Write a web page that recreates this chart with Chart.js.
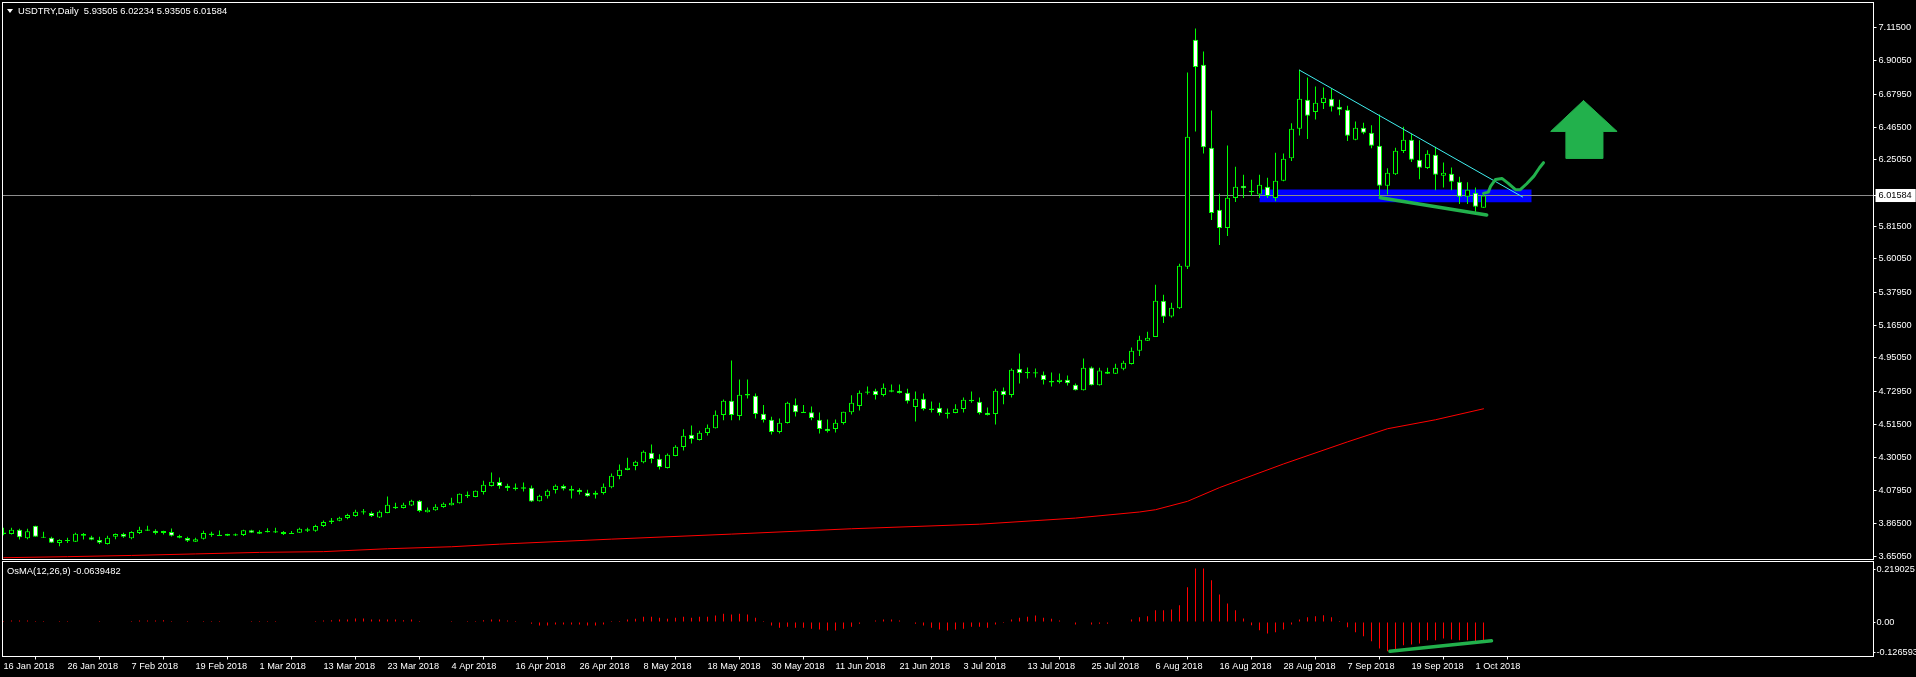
<!DOCTYPE html>
<html>
<head>
<meta charset="utf-8">
<title>USDTRY,Daily</title>
<script src="https://cdn.jsdelivr.net/npm/chart.js@4"></script>
<style>
    html, body { margin: 0; padding: 0; background: #000; overflow: hidden; }
    canvas { position: absolute; left: 0; display: block; }
    #mainChart { top: 0; }
    #osmaChart { top: 560px; }
    .label { position: absolute; color: #fff; font: 9.4px "Liberation Sans", sans-serif; white-space: pre; line-height: 11px; }
    #symbolLabel { left: 18px; top: 5px; }
    #osmaLabel { left: 7px; top: 565px; }
    #dropMark { position: absolute; left: 7px; top: 9px; width: 0; height: 0; border-left: 3px solid transparent; border-right: 3px solid transparent; border-top: 4px solid #fff; }
</style>
</head>
<body>
<canvas id="mainChart" width="1916" height="560"></canvas>
<canvas id="osmaChart" width="1916" height="117"></canvas>
<div id="dropMark"></div>
<div id="symbolLabel" class="label">USDTRY,Daily  5.93505 6.02234 5.93505 6.01584</div>
<div id="osmaLabel" class="label">OsMA(12,26,9) -0.0639482</div>
<script>
// Daily candles, 16 Jan 2018 to 2 Oct 2018
var opens = [
    3.795,3.795,3.823,3.767,3.850,3.778,3.771,3.736,3.750,3.745,
    3.795,3.775,3.756,3.730,3.778,3.795,3.767,3.802,3.817,3.817,
    3.802,3.808,3.782,3.769,3.745,3.765,3.789,3.783,3.784,3.785,
    3.789,3.821,3.797,3.807,3.805,3.808,3.795,3.804,3.817,3.817,
    3.848,3.874,3.883,3.900,3.913,3.936,3.933,3.904,3.933,3.964,
    3.966,3.983,4.014,3.939,3.952,3.972,3.985,3.998,4.043,4.038,
    4.071,4.110,4.136,4.112,4.091,4.093,4.099,4.011,4.044,4.084,
    4.110,4.080,4.086,4.066,4.053,4.064,4.103,4.176,4.215,4.241,
    4.267,4.329,4.289,4.228,4.307,4.366,4.447,4.412,4.458,4.490,
    4.576,4.670,4.569,4.704,4.702,4.584,4.545,4.464,4.523,4.643,
    4.590,4.595,4.545,4.486,4.484,4.523,4.595,4.635,4.722,4.735,
    4.707,4.728,4.735,4.722,4.628,4.683,4.609,4.624,4.583,4.589,
    4.615,4.667,4.663,4.591,4.582,4.735,4.707,4.879,4.850,4.849,
    4.840,4.790,4.792,4.807,4.774,4.739,4.888,4.772,4.860,4.847,
    4.880,4.910,4.998,5.063,5.087,5.325,5.223,5.277,5.548,7.037,
    6.873,6.329,5.923,5.802,6.000,6.080,6.038,6.023,6.073,6.000,
    6.113,6.261,6.454,6.644,6.563,6.622,6.651,6.598,6.578,6.382,
    6.460,6.427,6.342,6.080,6.156,6.307,6.381,6.250,6.196,6.283,
    6.145,6.158,6.106,6.008,6.034,5.93505
];
var highs = [
    3.837,3.837,3.830,3.830,3.850,3.810,3.778,3.762,3.771,3.804,
    3.802,3.784,3.778,3.784,3.799,3.804,3.813,3.843,3.850,3.826,
    3.817,3.832,3.791,3.778,3.771,3.817,3.810,3.819,3.797,3.799,
    3.823,3.823,3.821,3.834,3.837,3.815,3.815,3.837,3.837,3.856,
    3.885,3.900,3.909,3.928,3.955,3.959,3.944,3.950,4.042,4.000,
    4.000,4.020,4.018,3.970,3.990,4.003,4.033,4.062,4.075,4.081,
    4.145,4.199,4.167,4.125,4.127,4.134,4.114,4.053,4.088,4.121,
    4.121,4.112,4.095,4.086,4.079,4.127,4.193,4.252,4.296,4.276,
    4.344,4.383,4.318,4.324,4.377,4.482,4.508,4.473,4.514,4.606,
    4.678,4.934,4.809,4.809,4.718,4.641,4.565,4.554,4.663,4.685,
    4.641,4.632,4.593,4.547,4.547,4.597,4.705,4.737,4.763,4.748,
    4.783,4.777,4.777,4.748,4.731,4.718,4.665,4.656,4.619,4.646,
    4.691,4.731,4.691,4.626,4.748,4.757,4.882,4.980,4.888,4.882,
    4.862,4.855,4.849,4.836,4.783,4.947,4.895,4.886,4.886,4.912,
    4.932,5.019,5.096,5.122,5.430,5.365,5.312,5.568,6.823,7.112,
    6.961,6.574,6.027,6.344,6.204,6.152,6.119,6.152,6.132,6.296,
    6.292,6.489,6.841,6.790,6.731,6.725,6.716,6.644,6.605,6.502,
    6.493,6.476,6.548,6.194,6.329,6.467,6.421,6.379,6.312,6.336,
    6.233,6.200,6.139,6.102,6.069,6.02234
];
var lows = [
    3.788,3.793,3.760,3.762,3.778,3.769,3.736,3.716,3.736,3.743,
    3.760,3.754,3.730,3.727,3.762,3.771,3.762,3.795,3.815,3.793,
    3.793,3.780,3.767,3.743,3.743,3.760,3.778,3.782,3.782,3.782,
    3.782,3.802,3.795,3.805,3.803,3.789,3.795,3.802,3.808,3.810,
    3.841,3.861,3.880,3.893,3.909,3.924,3.907,3.900,3.931,3.959,
    3.963,3.979,3.939,3.937,3.948,3.968,3.983,3.996,4.031,4.036,
    4.055,4.108,4.092,4.077,4.081,4.075,4.005,4.009,4.029,4.062,
    4.081,4.029,4.055,4.040,4.029,4.055,4.095,4.154,4.213,4.213,
    4.259,4.259,4.219,4.226,4.305,4.344,4.390,4.409,4.442,4.488,
    4.541,4.541,4.541,4.685,4.554,4.527,4.449,4.455,4.521,4.567,
    4.589,4.541,4.455,4.462,4.462,4.514,4.580,4.606,4.711,4.678,
    4.698,4.726,4.718,4.652,4.534,4.606,4.593,4.573,4.554,4.587,
    4.593,4.656,4.580,4.573,4.514,4.646,4.691,4.783,4.816,4.822,
    4.777,4.763,4.783,4.770,4.737,4.737,4.770,4.770,4.845,4.845,
    4.869,4.908,4.963,5.061,5.087,5.179,5.216,5.271,5.533,6.436,
    6.292,5.855,5.691,5.750,5.973,6.000,6.012,6.000,6.000,5.979,
    6.110,6.242,6.410,6.386,6.515,6.583,6.567,6.543,6.373,6.379,
    6.417,6.325,6.012,6.023,6.150,6.294,6.235,6.122,6.189,6.051,
    6.069,6.051,5.960,5.960,5.909,5.93505
];
var closes = [
    3.806,3.823,3.775,3.813,3.778,3.771,3.738,3.756,3.756,3.797,
    3.784,3.758,3.738,3.771,3.795,3.778,3.808,3.823,3.825,3.802,
    3.815,3.784,3.771,3.751,3.762,3.802,3.799,3.791,3.795,3.794,
    3.821,3.804,3.810,3.816,3.814,3.795,3.802,3.830,3.827,3.848,
    3.874,3.884,3.902,3.920,3.942,3.945,3.913,3.942,3.987,3.974,
    3.987,4.014,3.946,3.955,3.974,3.994,4.000,4.060,4.053,4.079,
    4.119,4.138,4.110,4.097,4.101,4.103,4.009,4.047,4.079,4.112,
    4.092,4.090,4.071,4.044,4.066,4.106,4.178,4.217,4.230,4.269,
    4.335,4.287,4.235,4.315,4.368,4.440,4.418,4.460,4.493,4.578,
    4.670,4.576,4.709,4.714,4.582,4.543,4.464,4.525,4.656,4.595,
    4.598,4.556,4.484,4.471,4.525,4.597,4.656,4.722,4.731,4.707,
    4.755,4.738,4.720,4.667,4.683,4.615,4.619,4.589,4.592,4.617,
    4.676,4.676,4.589,4.576,4.735,4.707,4.873,4.851,4.859,4.857,
    4.805,4.800,4.807,4.785,4.739,4.886,4.772,4.868,4.847,4.886,
    4.919,4.998,5.070,5.083,5.325,5.221,5.279,5.555,6.401,6.858,
    6.333,5.901,5.802,6.001,6.073,6.064,6.047,6.086,6.012,6.113,
    6.257,6.454,6.651,6.539,6.624,6.657,6.598,6.578,6.408,6.460,
    6.427,6.342,6.080,6.165,6.309,6.381,6.250,6.198,6.290,6.152,
    6.165,6.106,6.008,6.054,5.942,6.01584
];

// Red moving average, sampled at a few bars
var maBars   = [0,8,16,24,32,40,48,56,62,76,91,106,122,134,142,144,148,152,160,168,173,179,185];
var maValues = [3.640,3.647,3.655,3.665,3.675,3.680,3.699,3.712,3.729,3.762,3.795,3.830,3.860,3.900,3.940,3.955,4.010,4.100,4.255,4.400,4.486,4.545,4.617];

// OsMA(12,26,9) histogram, one value per candle
var osmaValues = [
    0.004,0.006,0.006,0.006,0.004,0.004,0,0.004,0.004,0,
    0,0,0.004,0,0,0,0.004,0.006,0.006,0.006,
    0.007,0.004,0,0.004,-0.002,0.004,0.004,0.004,0,0,
    0,0.004,0.004,0.004,0.004,0,0,0,0,0.004,
    0.006,0.007,0.011,0.011,0.015,0.015,0.011,0.011,0.011,0.011,
    0.007,0.011,0.004,0,0,0,0.004,0,0.004,0.004,
    0.007,0.010,0.010,0.006,0.004,0,-0.007,-0.015,-0.015,-0.011,
    -0.011,-0.011,-0.011,-0.015,-0.015,-0.011,0.004,0.004,0.010,0.014,
    0.022,0.022,0.018,0.014,0.018,0.022,0.018,0.022,0.022,0.027,
    0.035,0.031,0.035,0.031,0.018,0.004,-0.015,-0.024,-0.020,-0.024,
    -0.024,-0.028,-0.032,-0.036,-0.036,-0.028,-0.020,-0.007,0,0.006,
    0.010,0.010,0.006,0,-0.007,-0.015,-0.024,-0.032,-0.036,-0.032,
    -0.028,-0.020,-0.020,-0.024,-0.011,-0.004,0.010,0.018,0.022,0.027,
    0.018,0.014,0.006,0,-0.011,0,-0.011,-0.007,-0.007,0.002,
    0,0.011,0.020,0.024,0.049,0.049,0.053,0.070,0.146,0.225,
    0.225,0.175,0.116,0.078,0.049,0.015,-0.014,-0.035,-0.048,-0.043,
    -0.031,-0.010,0.011,0.020,0.024,0.028,0.020,0.004,-0.022,-0.043,
    -0.060,-0.081,-0.111,-0.123,-0.115,-0.098,-0.094,-0.090,-0.077,-0.077,
    -0.069,-0.073,-0.077,-0.077,-0.081,-0.077
];

// Axis labels
var priceTicks = [7.115,6.9005,6.6795,6.465,6.2505,6.01584,5.815,5.6005,5.3795,5.165,4.9505,4.7295,4.515,4.3005,4.0795,3.865,3.6505];
var osmaTicks  = [0.219025,0,-0.126593];
var dateLabels = ["16 Jan 2018","26 Jan 2018","7 Feb 2018","19 Feb 2018","1 Mar 2018","13 Mar 2018","23 Mar 2018","4 Apr 2018",
    "16 Apr 2018","26 Apr 2018","8 May 2018","18 May 2018","30 May 2018","11 Jun 2018","21 Jun 2018","3 Jul 2018",
    "13 Jul 2018","25 Jul 2018","6 Aug 2018","16 Aug 2018","28 Aug 2018","7 Sep 2018","19 Sep 2018","1 Oct 2018"];
var lastPrice = 6.01584;

// Things drawn by hand on the chart, as bar number and price
var trendBars    = [162, 189.9];
var trendPrices  = [6.838, 6.006];
var supportBars  = [172.1, 185.4];
var supportPrices = [6.001, 5.888];
var bandBars     = [157, 191, 191, 157];
var bandPrices   = [6.056, 6.056, 5.971, 5.971];
var curveBars    = [185.0,185.6,185.9,186.5,187.3,188.1,189.0,189.6,190.4,191.3,192.0,192.5];
var curvePrices  = [6.030,6.038,6.078,6.121,6.128,6.095,6.054,6.054,6.093,6.143,6.198,6.231];
var arrowBars    = [197.5,201.7,199.9,199.9,195.3,195.3,193.4,197.5];
var arrowPrices  = [6.639,6.436,6.436,6.259,6.259,6.436,6.436,6.639];
var osmaLineBars   = [173.3, 186];
var osmaLineValues = [-0.1226, -0.079];

var barNumbers = opens.map((o, i) => i);

// Turn two lists into the x/y points a line dataset wants
function toPoints(xs, ys) {
    return xs.map((x, i) => ({x: x, y: ys[i]}));
}

function lineSet(xs, ys, color, width, order, fill) {
    return {
        type: 'line',
        data: toPoints(xs, ys),
        borderColor: color,
        backgroundColor: color,
        borderWidth: width,
        pointRadius: 0,
        tension: 0,
        fill: fill || false,
        order: order,
        borderCapStyle: 'round',
        borderJoinStyle: 'round'
    };
}

// White frame round each panel
var framePlugin = {
    id: 'frame',
    afterDraw(chart) {
        let a = chart.chartArea;
        chart.ctx.save();
        chart.ctx.strokeStyle = '#fff';
        chart.ctx.lineWidth = 1;
        chart.ctx.strokeRect(a.left, a.top, a.width, a.height);
        chart.ctx.restore();
    }
};

var axisFont = {family: '"Liberation Sans"', size: 9.2};

var xRange = {type: 'linear', offset: false, min: -0.125, max: 233.75};

// Stop the axis labels from pushing the plot area inwards
function fixAxisWidth(scale) {
    scale.width = 42.5;
    scale.paddingTop = 0;
    scale.paddingBottom = 0;
}

// Candle wicks and bodies are two floating bar sets on top of each other
var mainChart = new Chart(document.getElementById('mainChart'), {
    type: 'bar',
    data: {
        datasets: [
            lineSet(arrowBars, arrowPrices, '#22b14c', 1, 1, 'shape'),
            lineSet(curveBars, curvePrices, '#22b14c', 3, 1),
            lineSet(supportBars, supportPrices, '#22b14c', 3.5, 1),
            lineSet(trendBars, trendPrices, '#40f0f0', 1, 2),
            {
                label: 'bodies',
                data: barNumbers.map(i => ({x: i, y: [Math.min(opens[i], closes[i]), Math.max(opens[i], closes[i])]})),
                backgroundColor: ctx => closes[ctx.dataIndex] < opens[ctx.dataIndex] ? '#fff' : '#000',
                borderColor: '#00ff00',
                borderWidth: 1,
                borderSkipped: false,
                inflateAmount: 0,
                barThickness: 5,
                grouped: false,
                order: 3
            },
            {
                label: 'wicks',
                data: barNumbers.map(i => ({x: i, y: [lows[i], highs[i]]})),
                backgroundColor: '#00ff00',
                borderWidth: 0,
                inflateAmount: 0,
                barThickness: 1,
                grouped: false,
                order: 4
            },
            lineSet(maBars, maValues, '#ff0000', 1, 5),
            lineSet([-0.125, 233.75], [lastPrice, lastPrice], '#8c8c8c', 1, 6),
            lineSet(bandBars, bandPrices, '#0000ff', 0, 7, 'shape')
        ]
    },
    options: {
        responsive: false,
        animation: false,
        events: [],
        layout: {padding: {left: 2.5, top: 2.5, bottom: 0.5}},
        plugins: {legend: {display: false}, tooltip: {enabled: false}},
        scales: {
            x: Object.assign({display: false}, xRange),
            y: {
                position: 'right',
                min: 3.6284,
                max: 7.2818,
                afterFit: fixAxisWidth,
                afterBuildTicks(scale) { scale.ticks = priceTicks.map(v => ({value: v})); },
                border: {display: false},
                grid: {drawOnChartArea: false, drawTicks: true, tickLength: 3, color: '#fff'},
                ticks: {
                    font: axisFont,
                    padding: 2,
                    autoSkip: false,
                    color: ctx => ctx.tick.value === lastPrice ? '#000' : '#fff',
                    showLabelBackdrop: ctx => ctx.tick.value === lastPrice,
                    backdropColor: '#fff',
                    backdropPadding: {left: 3, right: 4, top: 1, bottom: 1},
                    callback: v => v.toFixed(5)
                }
            }
        }
    },
    plugins: [framePlugin]
});

// OsMA panel underneath, this one carries the date axis
var osmaChart = new Chart(document.getElementById('osmaChart'), {
    type: 'bar',
    data: {
        datasets: [
            lineSet(osmaLineBars, osmaLineValues, '#22b14c', 3.5, 1),
            {
                label: 'OsMA',
                data: barNumbers.map(i => ({x: i, y: osmaValues[i]})),
                backgroundColor: '#ff0000',
                borderWidth: 0,
                inflateAmount: 0,
                barThickness: 1,
                grouped: false,
                order: 2
            }
        ]
    },
    options: {
        responsive: false,
        animation: false,
        events: [],
        layout: {padding: {left: 2.5, top: 1.5}},
        plugins: {legend: {display: false}, tooltip: {enabled: false}},
        scales: {
            x: Object.assign({}, xRange, {
                afterFit(scale) {
                    scale.height = 20.5;
                    scale.paddingLeft = 0;
                    scale.paddingRight = 0;
                },
                afterBuildTicks(scale) { scale.ticks = dateLabels.map((d, i) => ({value: i * 8})); },
                border: {display: false},
                grid: {drawOnChartArea: false, drawTicks: true, tickLength: 3, color: '#fff'},
                ticks: {
                    font: axisFont,
                    color: '#fff',
                    align: 'start',
                    padding: 1,
                    maxRotation: 0,
                    autoSkip: false,
                    callback: v => dateLabels[v / 8]
                }
            }),
            y: {
                position: 'right',
                min: -0.1449,
                max: 0.2541,
                afterFit: fixAxisWidth,
                afterBuildTicks(scale) { scale.ticks = osmaTicks.map(v => ({value: v})); },
                border: {display: false},
                grid: {drawOnChartArea: false, drawTicks: true, tickLength: 2, color: '#fff'},
                ticks: {
                    font: axisFont,
                    color: '#fff',
                    padding: 1,
                    autoSkip: false,
                    callback: v => v === 0 ? '0.00' : v.toFixed(6)
                }
            }
        }
    },
    plugins: [framePlugin]
});
</script>
</body>
</html>
